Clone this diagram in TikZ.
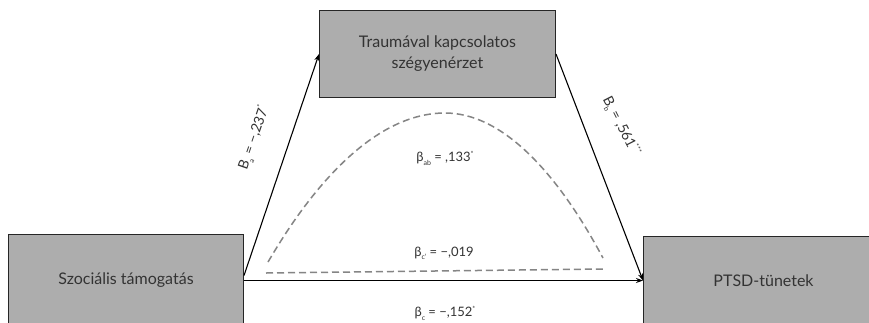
\documentclass[tikz,border=0pt]{standalone}
\usepackage{fontspec}
\setmainfont{Lato}
\usetikzlibrary{arrows.meta}
\definecolor{boxgray}{HTML}{ADADAD}
\definecolor{txt}{HTML}{333333}
\definecolor{dashgray}{HTML}{858585}
\newcommand{\lsub}[1]{\raisebox{-0.5ex}{\scriptsize #1}}
\newcommand{\lsup}[1]{\raisebox{0.9ex}{\scriptsize #1}}
\begin{document}
\begin{tikzpicture}[x=1pt,y=-1pt,
  box/.style={draw=black!85, line width=1pt, fill=boxgray, inner sep=0pt, text=txt, font=\fontsize{16}{21}\selectfont, align=center},
  coef/.style={text=txt, font=\fontsize{13}{15}\selectfont, inner sep=1pt},
  rcoef/.style={coef, font=\fontsize{14}{16}\selectfont},
  arr/.style={line width=1.1pt, -{Stealth[length=7pt,width=5pt]}},
  dsh/.style={dashgray, line width=1.5pt, dash pattern=on 7pt off 4pt}]
\useasboundingbox (0,0) rectangle (869,322);
\clip (0,0) rectangle (869,322);
\fill[white] (0,0) rectangle (869,322);
% boxes
\node[box, minimum width=235pt, minimum height=92pt, anchor=north west] (sz) at (8,234) {\raisebox{4pt}{Szociális támogatás}};
\node[box, minimum width=236pt, minimum height=87pt, anchor=north west] (tb) at (319,10) {Traumával kapcsolatos\\szégyenérzet};
\node[box, minimum width=240pt, minimum height=88pt, anchor=north west] (pt) at (643,236) {PTSD-tünetek};
% arrows
\draw[arr] ([yshift=5pt]sz.east) -- (tb.west);
\draw[arr] (tb.east) -- (pt.west);
\draw[arr] (sz.east) -- (pt.west);
% dashed paths
\coordinate (d1) at (268,262);
\coordinate (dp) at (445,113);
\coordinate (d2) at (603,258);
\coordinate (e1) at (266,273);
\coordinate (e2) at (603,269);
\draw[dsh] (d1) parabola bend (dp) (d2);
\draw[dsh] (e1) -- (e2);
% labels
\node[rcoef, rotate=71] (la) at (254,138) {B\lsub{a} = −,237\lsup{*}};
\node[rcoef, rotate=-63] (lb) at (621,126) {B\lsub{b} = ,561\lsup{***}};
\node[coef] (lab) at (445,158) {β\lsub{ab} = ,133\lsup{*}};
\node[coef] (lcp) at (444,253) {β\lsub{c'} = −,019};
\node[coef] (lc) at (445,313) {β\lsub{c} = −,152\lsup{*}};
\end{tikzpicture}
\end{document}
